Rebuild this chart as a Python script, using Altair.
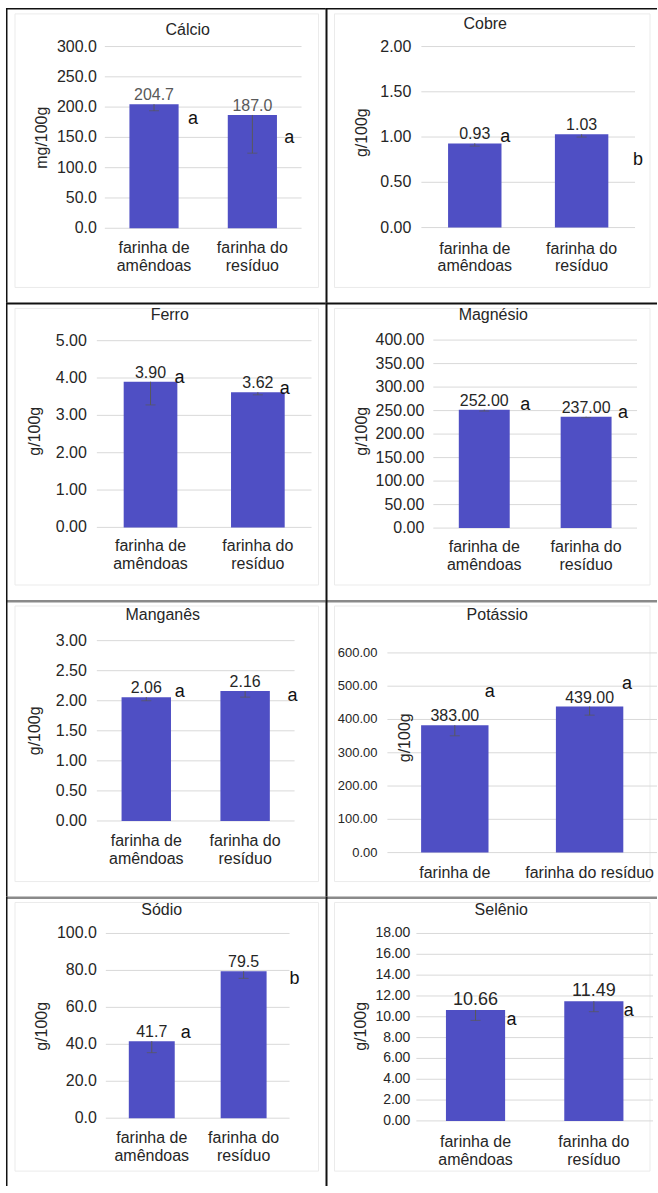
import altair as alt
import pandas as pd

# ---------------- data ----------------
categories = ["farinha de amêndoas", "farinha do resíduo"]
label_two_lines = ["farinha de|amêndoas", "farinha do|resíduo"]
label_potassio = ["farinha de", "farinha do resíduo"]

minerals = ["Cálcio", "Cobre", "Ferro", "Magnésio", "Manganês", "Potássio", "Sódio", "Selênio"]
units = ["mg/100g", "g/100g", "g/100g", "g/100g", "g/100g", "g/100g", "g/100g", "g/100g"]

calcio = [204.7, 187.0]
cobre = [0.93, 1.03]
ferro = [3.90, 3.62]
magnesio = [252.00, 237.00]
manganes = [2.06, 2.16]
potassio = [383.00, 439.00]
sodio = [41.7, 79.5]
selenio = [10.66, 11.49]
values = [calcio, cobre, ferro, magnesio, manganes, potassio, sodio, selenio]

# lower end of the (minus-only) error bars
calcio_low = [194.0, 124.0]
cobre_low = [0.90, 1.00]
ferro_low = [3.28, 3.55]
magnesio_low = [249.0, 235.0]
manganes_low = [2.00, 2.06]
potassio_low = [351.0, 413.0]
sodio_low = [35.5, 75.7]
selenio_low = [9.65, 10.49]
lows = [calcio_low, cobre_low, ferro_low, magnesio_low, manganes_low,
        potassio_low, sodio_low, selenio_low]

letters = [["a", "a"], ["a", "b"], ["a", "a"], ["a", "a"],
           ["a", "a"], ["a", "a"], ["a", "b"], ["a", "a"]]
letter_y = [[180.8, 149.5], [1.00, 0.75], [3.99, 3.70], [261.0, 244.0],
            [2.15, 2.08], [483.0, 507.0], [46.0, 75.1], [9.65, 10.6]]

ticks_calcio = [0, 50, 100, 150, 200, 250, 300]
ticks_cobre = [0, 0.5, 1.0, 1.5, 2.0]
ticks_ferro = [0, 1, 2, 3, 4, 5]
ticks_magnesio = [0, 50, 100, 150, 200, 250, 300, 350, 400]
ticks_manganes = [0, 0.5, 1.0, 1.5, 2.0, 2.5, 3.0]
ticks_potassio = [0, 100, 200, 300, 400, 500, 600]
ticks_sodio = [0, 20, 40, 60, 80, 100]
ticks_selenio = [0, 2, 4, 6, 8, 10, 12, 14, 16, 18]
ticks = [ticks_calcio, ticks_cobre, ticks_ferro, ticks_magnesio, ticks_manganes,
         ticks_potassio, ticks_sodio, ticks_selenio]
decimals = [1, 2, 2, 2, 2, 2, 1, 2]

# ---------------- layout / style ----------------
FONT = "Liberation Sans"
BAR = "#4f4fc4"
TXT = "#262626"
col_x = [6, 326]
col_w = [320, 332]
row_y = [7, 302, 600, 897]
row_h = [295, 298, 297, 290]
top_border = [("#111111", 1.5), ("#111111", 2), ("#8a8a8a", 2.5), ("#8a8a8a", 2.5)]
left_border = [("#111111", 1.5), ("#111111", 2)]

plot_box = [  # left, top, right, bottom (page px)
    (105, 45.7, 302, 227.7),
    (422, 45.7, 636, 227.0),
    (97, 340.3, 312, 527.3),
    (434, 339.7, 638, 528.0),
    (97, 640.7, 295, 821.3),
    (388, 653.0, 658, 853.0),
    (106, 934.0, 290, 1119.0),
    (417, 934.0, 654, 1121.7),
]
title_pos = [(188, 29), (486, 22.7), (170, 314.7), (494, 314.7),
             (163, 615.3), (498, 615), (162, 910), (502, 910)]
ytitle_pos = [(42, 137), (363, 132), (35, 431), (363, 431),
              (35, 731), (406, 738), (42, 1027), (362, 1027)]
ylabel_pad = [8, 10, 10, 9, 10, 10, 9, 6]
xlabel_pad = [12, 13, 11, 10.5, 12, 12.5, 11.5, 13]
letter_dx = [(39, 37), (30.5, 56.5), (29, 27), (41, 37),
             (33.5, 47.5), (35, 37.5), (34, 51), (36, 35)]
tick_fs = [16, 16, 16, 16, 16, 13, 16, 14]
value_fs = [16, 16, 16, 16, 16, 16, 16, 18]
value_color = ["#595959", TXT, TXT, TXT, TXT, TXT, TXT, TXT]


def make_panel(i, r, c):
    left, top, right, bottom = plot_box[i]
    pw = right - left
    ph = bottom - top
    ox = left - col_x[c]
    oy = top - row_y[r]
    W = col_w[c]
    H = row_h[r]
    fmt = f".{decimals[i]}f"

    xl = label_potassio if minerals[i] == "Potássio" else label_two_lines
    df = pd.DataFrame({"cat": categories, "val": values[i], "low": lows[i],
                       "letter": letters[i], "ly": letter_y[i], "xl": xl})
    tdf = pd.DataFrame({"t": ticks[i]})
    one = pd.DataFrame({"k": [0]})

    xs = alt.Scale(domain=categories, range=[ox, ox + pw],
                   paddingInner=0.5, paddingOuter=0.25)
    ys = alt.Scale(domain=[0, ticks[i][-1]], range=[oy + ph, oy], nice=False, zero=True)

    def X():
        return alt.X("cat:N", scale=xs, axis=None)

    def Y(f):
        return alt.Y(f, scale=ys, axis=None)

    deco = alt.Chart(one)
    faint = deco.mark_rect(fillOpacity=0, stroke="#ebebeb", strokeWidth=1).encode(
        x=alt.value(9), x2=alt.value(W - 7), y=alt.value(6), y2=alt.value(H - 15))
    tcol, tw = top_border[r]
    topb = deco.mark_rect(color=tcol).encode(
        x=alt.value(0), x2=alt.value(W), y=alt.value(0), y2=alt.value(tw))
    lcol, lw = left_border[c]
    leftb = deco.mark_rect(color=lcol).encode(
        x=alt.value(0), x2=alt.value(lw), y=alt.value(0), y2=alt.value(H))
    title = deco.mark_text(font=FONT, fontSize=16, color=TXT,
                           baseline="middle", align="center").encode(
        x=alt.value(title_pos[i][0] - col_x[c]), y=alt.value(title_pos[i][1] - row_y[r]),
        text=alt.value(minerals[i]))
    ytitle = deco.mark_text(font=FONT, fontSize=16, color=TXT, angle=270,
                            baseline="middle", align="center").encode(
        x=alt.value(ytitle_pos[i][0] - col_x[c]), y=alt.value(ytitle_pos[i][1] - row_y[r]),
        text=alt.value(units[i]))

    tb = alt.Chart(tdf)
    grid = tb.mark_rule(color="#d9d9d9", strokeWidth=1).encode(
        y=Y("t:Q"), x=alt.value(ox), x2=alt.value(ox + pw))
    tlab = tb.mark_text(font=FONT, fontSize=tick_fs[i], color=TXT,
                        align="right", baseline="middle").encode(
        y=Y("t:Q"), x=alt.value(ox - ylabel_pad[i]),
        text=alt.Text("t:Q", format=fmt))

    base = alt.Chart(df)
    bars = base.mark_bar(color=BAR).encode(x=X(), y=Y("val:Q"))
    err = base.mark_rule(color="#595959", strokeWidth=1).encode(
        x=X(), y=Y("val:Q"), y2=alt.Y2("low:Q"))
    cap = base.mark_tick(color="#595959", size=10, thickness=1,
                         orient="horizontal").encode(x=X(), y=Y("low:Q"))
    vlab = base.mark_text(font=FONT, fontSize=value_fs[i], color=value_color[i],
                          baseline="bottom", dy=-1).encode(
        x=X(), y=Y("val:Q"), text=alt.Text("val:Q", format=fmt))
    xlab = base.mark_text(font=FONT, fontSize=16, color=TXT, baseline="top",
                          lineBreak="|", lineHeight=18).encode(
        x=X(), y=alt.value(oy + ph + xlabel_pad[i]), text="xl:N")
    lets = []
    for j in range(2):
        lets.append(alt.Chart(df.iloc[[j]]).mark_text(
            font=FONT, fontSize=18, color="#111111", baseline="middle",
            align="center", dx=letter_dx[i][j]).encode(
            x=X(), y=Y("ly:Q"), text="letter:N"))

    return alt.layer(faint, grid, tlab, bars, err, cap, vlab, xlab, *lets,
                     title, ytitle, topb, leftb).properties(width=W, height=H)


panels = []
for i in range(8):
    panels.append(make_panel(i, i // 2, i % 2))

chart = alt.concat(*panels, columns=2, spacing=0, bounds="flush", align="each").properties(
    padding={"left": 6, "top": 7, "right": 0, "bottom": 0}
).configure_view(strokeWidth=0)

chart.save("out.html", embed_options={"renderer": "svg", "actions": False})
